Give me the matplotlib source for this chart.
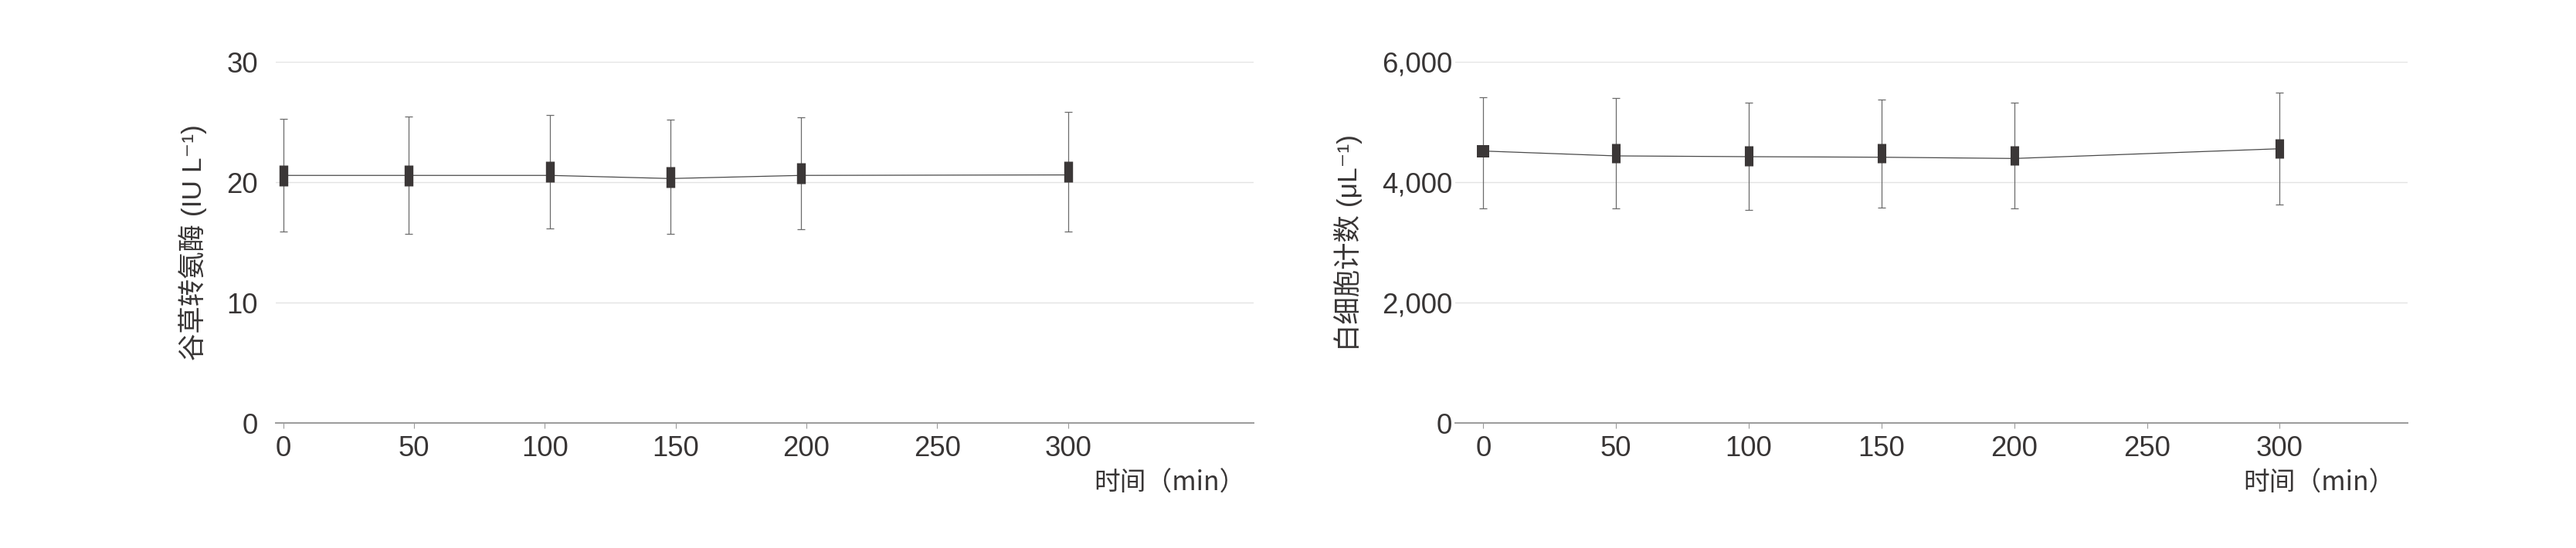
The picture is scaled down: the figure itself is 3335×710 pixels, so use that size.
import matplotlib
matplotlib.use("Agg")
import matplotlib.pyplot as plt
from matplotlib.ticker import FuncFormatter

plt.rcParams['font.family'] = ['Liberation Sans', 'Noto Sans CJK SC', 'DejaVu Sans']

# 谷草转氨酶 panel
ast_time = [0, 48, 102, 148, 198, 300]
ast_mean = [20.58, 20.58, 20.58, 20.32, 20.58, 20.62]
ast_box_lo = [19.72, 19.72, 20.03, 19.59, 19.89, 20.03]
ast_box_hi = [21.45, 21.45, 21.75, 21.32, 21.62, 21.75]
ast_whisk_lo = [15.90, 15.72, 16.19, 15.70, 16.11, 15.92]
ast_whisk_hi = [25.28, 25.45, 25.60, 25.19, 25.38, 25.85]

# 白细胞计数 panel
wbc_time = [0, 50, 100, 150, 200, 300]
wbc_mean = [4521, 4440, 4427, 4418, 4397, 4559]
wbc_box_lo = [4418, 4321, 4273, 4321, 4282, 4397]
wbc_box_hi = [4615, 4649, 4603, 4649, 4610, 4726]
wbc_whisk_lo = [3568, 3564, 3542, 3585, 3568, 3628]
wbc_whisk_hi = [5410, 5405, 5328, 5380, 5324, 5495]

x_ticks = [0, 50, 100, 150, 200, 250, 300]
ast_ticks = [0, 10, 20, 30]
wbc_ticks = [0, 2000, 4000, 6000]

TEXT = '#383535'
BOX = '#3b3737'
W, H = 3335, 710


def draw_panel(ax, t, mean, blo, bhi, wlo, whi, box_lw):
    err = [[m - lo for m, lo in zip(mean, wlo)], [hi - m for m, hi in zip(mean, whi)]]
    ax.errorbar(t, mean, yerr=err, fmt='none', ecolor='#6b6b6b',
                elinewidth=0.9, capsize=3.3, capthick=0.9, zorder=2)
    ax.plot(t, mean, color='#4a4a4a', lw=0.9, zorder=3)
    ax.vlines(t, blo, bhi, colors=BOX, linewidths=box_lw, zorder=4)

    for s in ['top', 'right', 'left']:
        ax.spines[s].set_visible(False)
    ax.spines['bottom'].set_color('#9a9a9a')
    ax.spines['bottom'].set_linewidth(1.4)
    ax.grid(axis='y', color='#e3e3e3', lw=1.0, zorder=0)
    ax.set_axisbelow(True)
    ax.set_xticks(x_ticks)
    ax.tick_params(axis='x', length=5, width=0.8, color='#9a9a9a',
                   labelsize=26.3, labelcolor=TEXT, pad=6.5)
    ax.tick_params(axis='y', length=0, labelsize=26.3, labelcolor=TEXT)


fig = plt.figure(figsize=(W / 100, H / 100), dpi=100)

# left panel
ax1 = fig.add_axes([357 / W, (H - 548.3) / H, 1266 / W, 468 / H])
draw_panel(ax1, ast_time, ast_mean, ast_box_lo, ast_box_hi, ast_whisk_lo, ast_whisk_hi, 8.2)
ax1.set_xlim(-2.9, 371)
ax1.set_ylim(0, 30)
ax1.set_yticks(ast_ticks)
ax1.tick_params(axis='y', pad=16.5)
ax1.text(-0.0845, 0.5, '谷草转氨酶 (IU L⁻¹)', transform=ax1.transAxes, rotation=90,
         ha='center', va='center', fontsize=25.5, color=TEXT)
ax1.text((1613 - 357) / 1266, -(626 - 548.3) / 468, '时间（min）', transform=ax1.transAxes,
         ha='right', va='center', fontsize=24.3, color=TEXT, family=['Noto Sans CJK SC', 'DejaVu Sans'])

# right panel
ax2 = fig.add_axes([1884.3 / W, (H - 548.3) / H, 1232.7 / W, 468 / H])
draw_panel(ax2, wbc_time, wbc_mean, wbc_box_lo, wbc_box_hi, wbc_whisk_lo, wbc_whisk_hi,
           [11.5, 8.0, 8.0, 8.0, 8.0, 8.0])
ax2.set_xlim(-10.5, 348.2)
ax2.set_ylim(0, 6000)
ax2.set_yticks(wbc_ticks)
ax2.yaxis.set_major_formatter(FuncFormatter(lambda v, p: f'{v:,.0f}'))
ax2.tick_params(axis='y', pad=3)
ax2.text(-0.113, 0.5, '白细胞计数 (μL⁻¹)', transform=ax2.transAxes, rotation=90,
         ha='center', va='center', fontsize=25.5, color=TEXT)
ax2.text((3101 - 1884.3) / 1232.7, -(626 - 548.3) / 468, '时间（min）', transform=ax2.transAxes,
         ha='right', va='center', fontsize=24.3, color=TEXT, family=['Noto Sans CJK SC', 'DejaVu Sans'])

fig.savefig('out.png', dpi=100, facecolor='white')
